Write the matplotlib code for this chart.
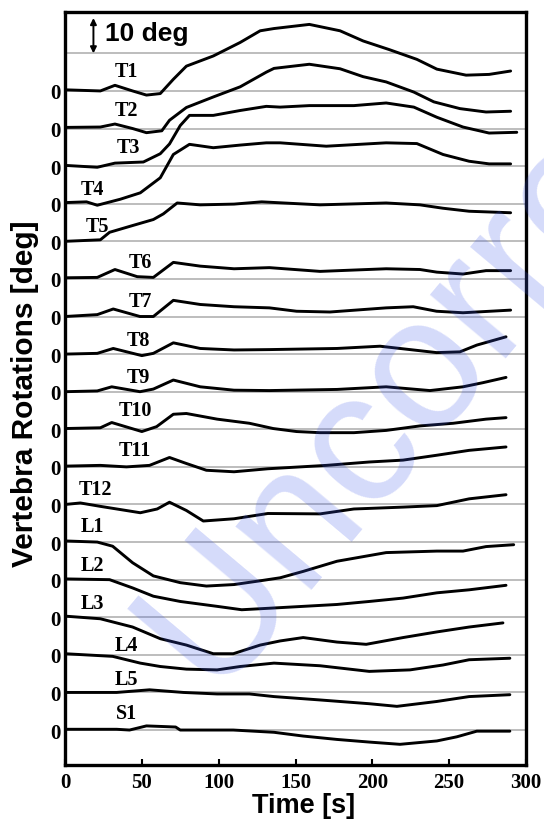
import matplotlib
matplotlib.use("Agg")
import matplotlib.pyplot as plt

# ---------------- data (degrees, relative to each trace's zero) ----------------
labels = ["T1", "T2", "T3", "T4", "T5", "T6", "T7", "T8", "T9", "T10",
          "T11", "T12", "L1", "L2", "L3", "L4", "L5", "S1"]

t_T1 = [0, 23, 32.5, 44, 53, 62, 70.5, 79, 96.5, 114, 127, 136, 159, 179, 194, 211, 229, 242, 261, 276, 290]
v_T1 = [0.3, 0, 1.5, 0, -1.1, -0.7, 3.1, 6.6, 9.3, 12.9, 16.0, 16.6, 17.7, 16.0, 13.3, 11.0, 8.4, 5.8, 4.2, 4.4, 5.3]

t_T2 = [0, 23, 32.5, 44, 53, 63, 68, 79, 96.5, 114, 131, 136, 159, 179, 194, 209, 227, 240, 257, 274, 290]
v_T2 = [0.3, 0.4, 1.2, 0, -1.1, -0.6, 2.2, 5.6, 8.4, 11.1, 15.0, 16.0, 17.1, 15.9, 13.8, 12.4, 9.7, 7.1, 5.3, 4.4, 4.6]

t_T3 = [0, 21, 32.5, 51, 62, 68, 75, 81, 96.5, 114, 131, 140, 159, 188, 209, 227, 242, 259, 276, 294]
v_T3 = [0.2, -0.3, 0.8, 1.1, 3.3, 5.9, 10.8, 13.5, 13.5, 14.8, 15.9, 15.7, 16.1, 16.1, 16.8, 15.7, 13.0, 10.4, 8.8, 9.0]

t_T4 = [0, 14, 21, 36, 49, 62, 70.5, 81, 96.5, 114, 131, 140, 170, 209, 229, 246, 263, 276, 290]
v_T4 = [0.3, 0.5, -0.4, 1.2, 2.9, 6.9, 13.1, 15.8, 14.9, 15.6, 16.2, 16.2, 15.3, 16.2, 16.0, 13.1, 11.3, 10.6, 10.6]

t_T5 = [0, 23, 29, 44, 57.5, 64, 73, 88, 110, 128, 166, 209, 231, 246, 263, 290]
v_T5 = [0, 0.4, 2.4, 4.2, 5.8, 7.3, 10.2, 9.7, 9.9, 10.5, 9.7, 10.2, 9.7, 8.8, 8.0, 7.6]

t_T6 = [0, 21, 32.5, 47, 57.5, 70.5, 88, 110, 133, 166, 209, 231, 242, 259, 274, 290]
v_T6 = [0.3, 0.4, 2.5, 0.6, 0.4, 4.4, 3.4, 2.7, 3.0, 2.0, 2.7, 2.5, 1.8, 1.3, 2.2, 2.2]

t_T7 = [0, 21, 31.4, 48.8, 57.5, 70.5, 88, 110, 133, 150.7, 172.4, 209, 226.6, 241.8, 259, 290]
v_T7 = [0, 0.5, 2.0, 0, 0, 4.3, 3.2, 2.6, 2.3, 1.4, 1.2, 2.3, 2.6, 1.4, 1.0, 1.7]

t_T8 = [0, 21, 31.4, 50, 57.5, 70.5, 88, 110, 133, 177, 205, 224.5, 241.8, 257, 268, 287]
v_T8 = [0, 0.2, 1.5, -0.4, 0.2, 3.0, 1.5, 1.1, 1.2, 1.5, 2.1, 1.2, 0.4, 0.6, 2.4, 4.6]

t_T9 = [0, 21, 30.4, 48.8, 57.5, 70.5, 88, 110, 133, 177, 209, 237.5, 259, 272, 287]
v_T9 = [0, 0.2, 1.3, 0, 0.7, 3.1, 1.3, 0.4, 0.3, 0.6, 1.3, 0.3, 1.3, 2.4, 3.8]

t_T10 = [0, 23, 30.4, 50, 59.6, 70.5, 79, 99, 120, 135.5, 150.7, 166, 188, 209, 231, 252.6, 274, 287]
v_T10 = [0.2, 0.4, 1.8, -0.6, 0.7, 4.0, 4.2, 2.7, 1.6, 0.2, -0.6, -0.9, -0.9, -0.3, 0.9, 1.6, 2.7, 3.1]

t_T11 = [0, 23, 40, 55, 68, 79, 92, 110, 132, 170, 198, 220, 242, 263, 287]
v_T11 = [0.2, 0.4, 0, 0.4, 2.5, 0.9, -0.9, -1.3, -0.5, 0.4, 1.3, 1.8, 3.1, 4.4, 5.3]

t_T12 = [0, 10, 23, 49, 60, 68, 79, 90, 110, 132, 166, 188, 220, 242, 263, 287]
v_T12 = [0, 0.4, -0.5, -2.2, -1.2, 0.6, -1.6, -4.4, -3.8, -2.4, -2.5, -1.2, -0.7, -0.3, 1.5, 2.6]

t_L1 = [0, 21, 31, 44, 57.5, 75, 92, 110, 127, 140, 155, 177, 209, 242, 259, 274, 292]
v_L1 = [0.3, 0, -1.1, -5.5, -9.0, -10.8, -11.7, -11.3, -10.3, -9.5, -7.8, -5.1, -2.8, -2.4, -2.4, -1.2, -0.7]

t_L2 = [0, 29, 44, 57.5, 75, 99, 115, 133, 155, 177, 198, 220, 242, 263, 287]
v_L2 = [0.2, 0, -2.2, -4.4, -5.8, -7.1, -8.0, -7.6, -7.1, -6.6, -5.8, -4.9, -3.5, -2.7, -1.5]

t_L3 = [0, 23, 44, 62, 79, 96.5, 109.5, 127, 140, 155, 177, 196, 220, 242, 263, 285]
v_L3 = [0.3, -0.4, -2.6, -5.7, -7.4, -9.7, -9.7, -7.4, -6.3, -5.4, -6.6, -7.2, -5.4, -3.9, -2.6, -1.5]

t_L4 = [0, 31, 49, 62, 79, 99, 114, 136, 166, 198, 224.5, 246, 263, 289.5]
v_L4 = [0.3, -0.4, -2.2, -3.1, -3.8, -4.0, -3.1, -2.2, -2.9, -4.4, -4.0, -2.7, -1.3, -0.9]

t_L5 = [0, 33.6, 55, 77, 99, 120, 136, 166, 198, 216, 242, 263, 289.5]
v_L5 = [0, 0, 0.7, 0, -0.4, -0.4, -1.1, -2.0, -3.0, -3.7, -2.4, -1.1, -0.6]

t_S1 = [0, 33.6, 42, 53, 66, 72, 75, 109.5, 136, 155, 177, 198, 218, 242, 255, 268, 289.5]
v_S1 = [0.2, 0.2, 0, 1.1, 0.9, 0.8, 0, 0, -0.6, -1.6, -2.5, -3.2, -3.8, -2.9, -1.8, -0.3, -0.3]

series_t = [t_T1, t_T2, t_T3, t_T4, t_T5, t_T6, t_T7, t_T8, t_T9, t_T10,
            t_T11, t_T12, t_L1, t_L2, t_L3, t_L4, t_L5, t_S1]
series_v = [v_T1, v_T2, v_T3, v_T4, v_T5, v_T6, v_T7, v_T8, v_T9, v_T10,
            v_T11, v_T12, v_L1, v_L2, v_L3, v_L4, v_L5, v_S1]

# label anchor (time, deg above own zero)
label_t = [40, 40, 41, 18, 21, 49, 49, 48, 48, 46, 45.5, 20, 17.6, 17.6, 17.6, 40, 40, 40]
label_dy = [5.2, 4.9, 5.0, 4.0, 4.1, 4.5, 4.0, 3.7, 4.0, 5.0, 4.5, 4.0, 4.3, 4.0, 3.7, 2.7, 3.5, 4.5]

x_ticks = [0, 50, 100, 150, 200, 250, 300]
spacing = 10  # degrees between stacked traces (= scale bar)

# ---------------- figure ----------------
SERIF = ["Liberation Serif", "DejaVu Serif"]
SANS = ["Liberation Sans", "DejaVu Sans"]

fig = plt.figure(figsize=(5.44, 8.20), dpi=100)
ax = fig.add_axes([65 / 544, 1 - 766 / 820, 461 / 544, 753 / 820])

n = len(labels)
offsets = [(n - 1 - i) * spacing for i in range(n)]

# gray reference lines
for k in range(n + 1):
    ax.axhline(k * spacing, color="#b8b8b8", lw=1.3, zorder=1)

for i in range(n):
    ys = [v + offsets[i] for v in series_v[i]]
    ax.plot(series_t[i], ys, color="black", lw=2.1, zorder=3,
            solid_joinstyle="round", solid_capstyle="round")
    ax.text(label_t[i], offsets[i] + label_dy[i], labels[i], family=SERIF,
            fontweight="bold", fontsize=14.5, ha="center", va="center", zorder=4)

ax.set_xlim(0, 300)
ax.set_ylim(-9.3, 191.0)
ax.set_xticks(x_ticks)
ax.set_xticklabels([str(x) for x in x_ticks], family=SERIF, fontweight="bold", fontsize=15)
ax.set_yticks(offsets)
ax.set_yticklabels(["0"] * n, family=SERIF, fontweight="bold", fontsize=15)
ax.tick_params(axis="x", direction="in", length=4, width=1.5, pad=5)
ax.tick_params(axis="y", length=0, pad=3)
for s in ax.spines.values():
    s.set_linewidth(2.4)

# scale bar
top_line = n * spacing
ax.annotate("", xy=(18.5, top_line + 9.4), xytext=(18.5, top_line),
            arrowprops=dict(arrowstyle="<|-|>", color="black", lw=1.4,
                            mutation_scale=9, shrinkA=0, shrinkB=0), zorder=5)
ax.text(26, top_line + 3.6, "10 deg", family=SANS, fontweight="bold",
        fontsize=19, ha="left", va="baseline")

# axis labels
fig.text(25.5 / 544, 1 - 394 / 820, "Vertebra Rotations [deg]", rotation=90,
         family=SANS, fontweight="bold", fontsize=21.5, ha="center", va="center")
fig.text(304 / 544, 1 - 813 / 820, "Time [s]", family=SANS, fontweight="bold",
         fontsize=19.5, ha="center", va="baseline")

# watermark
fig.text(212 / 544, 1 - 692 / 820, "Uncorrected", rotation=50, rotation_mode="anchor",
         family=SANS, fontsize=135, color=(0.25, 0.35, 0.92), alpha=0.22,
         ha="left", va="baseline", zorder=10)

fig.savefig("out.png", dpi=100)
